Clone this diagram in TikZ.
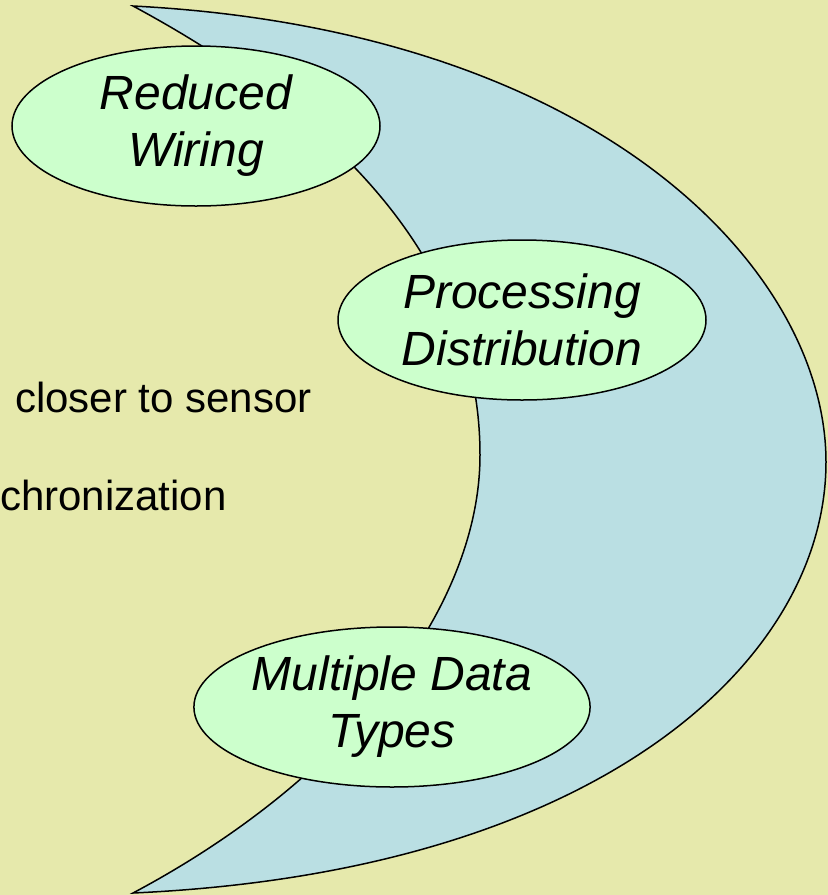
\documentclass[tikz,border=0pt]{standalone}
\usepackage{fontspec}
\setmainfont{Liberation Sans}
\usetikzlibrary{shapes.geometric}
\definecolor{bgyellow}{RGB}{230,233,172}
\definecolor{moonblue}{RGB}{186,223,227}
\definecolor{bubblegreen}{RGB}{204,255,204}

\begin{document}
\begin{tikzpicture}[x=1pt, y=-1pt,
    bubble/.style={ellipse, draw=black, line width=1.5pt, fill=bubblegreen,
      minimum width=368pt, minimum height=160pt, inner sep=0pt, align=center,
      font=\fontsize{48}{57}\selectfont\itshape},
    sidetext/.style={font=\fontsize{42}{50}\selectfont, inner sep=0pt}]
  % background
  \fill[bgyellow] (0,0) rectangle (828,895);
  \useasboundingbox (0,0) rectangle (828,895);

  % crescent
  \draw[fill=moonblue, line width=1.5pt, line join=miter]
    (133,6) .. controls (600,30) and (826,270) .. (826,462)
    .. controls (826,660) and (600,872) .. (133,893)
    .. controls (353,776) and (480,605) .. (480,455)
    .. controls (480,305) and (393,146) .. cycle;

  % left texts
  \node[sidetext, anchor=base west] (closer) at (15,412) {closer to sensor};
  \node[sidetext, anchor=base west] (sync) at (0,510) {chronization};

  % bubbles
  \node[bubble] (wiring) at (196,126) {Reduced\\Wiring};
  \node[bubble] (distrib) at (522,320) {Processing\\Distribution};
  \node[bubble] (types) at (392,707) {Multiple Data\\Types};
\end{tikzpicture}
\end{document}
